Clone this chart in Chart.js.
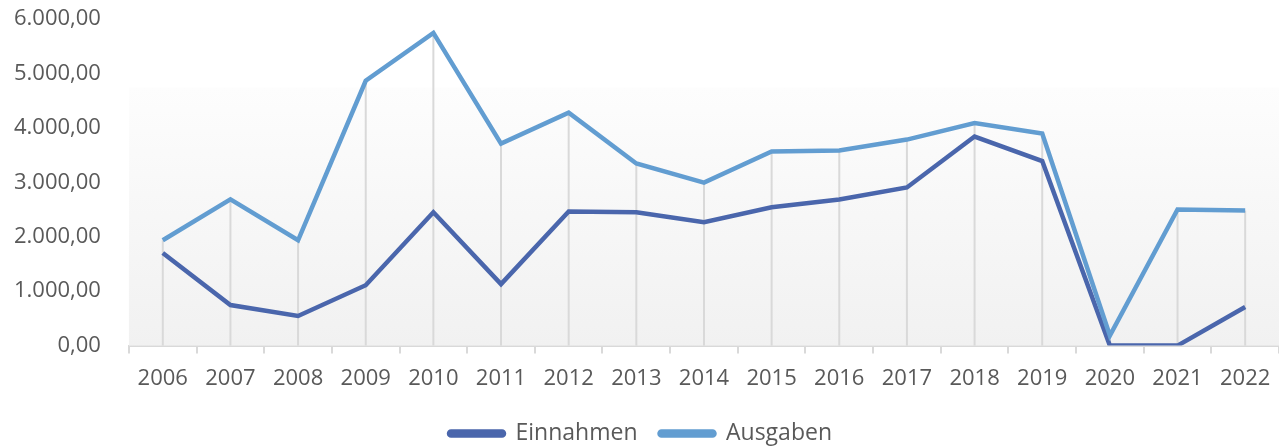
<!DOCTYPE html>
<html>
<head>
<meta charset="utf-8">
<script src="https://cdn.jsdelivr.net/npm/chart.js@4"></script>
<style>
  html, body { margin: 0; padding: 0; background: #fff; }
  #wrap { width: 1279px; height: 446px; position: relative; }
</style>
</head>
<body>
<div id="wrap"><canvas id="chart"></canvas></div>
<script>
const jahre = ['2006', '2007', '2008', '2009', '2010', '2011', '2012', '2013', '2014', '2015', '2016', '2017', '2018', '2019', '2020', '2021', '2022']
const einnahmen = [1700, 745, 545, 1110, 2450, 1130, 2465, 2450, 2265, 2540, 2685, 2905, 3840, 3390, 0, 0, 710]
const ausgaben = [1935, 2685, 1935, 4865, 5745, 3710, 4280, 3345, 2995, 3565, 3585, 3785, 4090, 3895, 185, 2500, 2480]
const yTicks = [0, 1000, 2000, 3000, 4000, 5000, 6000]

const fmt = new Intl.NumberFormat('de-DE', { minimumFractionDigits: 2, maximumFractionDigits: 2 })

// Hintergrund-Verlauf + senkrechte Linien (wie Excel Bezugslinien)
const hintergrund = {
    id: 'hintergrund',
    beforeDatasetsDraw(chart) {
        const { ctx, chartArea, scales } = chart
        const top = chartArea.top + (chartArea.bottom - chartArea.top) * 0.21
        const grad = ctx.createLinearGradient(0, top, 0, chartArea.bottom)
        grad.addColorStop(0, '#fdfdfd')
        grad.addColorStop(1, '#f1f1f1')
        ctx.save()
        ctx.fillStyle = grad
        ctx.fillRect(chartArea.left, top, chartArea.right - chartArea.left, chartArea.bottom - top)

        ctx.strokeStyle = '#d9d9d9'
        ctx.lineWidth = 2
        jahre.forEach((j, i) => {
            const x = scales.x.getPixelForValue(i)
            const hoch = Math.max(einnahmen[i], ausgaben[i])
            ctx.beginPath()
            ctx.moveTo(x, scales.y.getPixelForValue(0))
            ctx.lineTo(x, scales.y.getPixelForValue(hoch))
            ctx.stroke()
        })
        ctx.restore()
    }
}

const ctx = document.getElementById('chart').getContext('2d')
const chart = new Chart(ctx, {
    type: 'line',
    data: {
        labels: jahre,
        datasets: [{
            label: 'Einnahmen',
            data: einnahmen,
            borderColor: '#4a66ac',
            backgroundColor: '#4a66ac',
            borderWidth: 4.5,
            pointRadius: 0,
            tension: 0,
            order: 1
        }, {
            label: 'Ausgaben',
            data: ausgaben,
            borderColor: '#629dd1',
            backgroundColor: '#629dd1',
            borderWidth: 4.5,
            pointRadius: 0,
            tension: 0,
            order: 0
        }]
    },
    options: {
        responsive: true,
        maintainAspectRatio: false,
        animation: false,
        layout: { padding: { top: 19, right: -8, left: -6, bottom: -9 } },
        plugins: {
            legend: {
                position: 'bottom',
                labels: {
                    sort: (a, b) => a.datasetIndex - b.datasetIndex,
                    boxWidth: 55,
                    boxHeight: 4,
                    useBorderRadius: true,
                    borderRadius: 2,
                    padding: 22,
                    color: '#595959',
                    font: { family: 'Open Sans', size: 23 }
                }
            },
            tooltip: { enabled: false }
        },
        scales: {
            x: {
                offset: true,
                grid: {
                    offset: true,
                    drawOnChartArea: false,
                    drawTicks: true,
                    tickLength: 8,
                    color: '#d9d9d9',
                    lineWidth: 2
                },
                border: { color: '#d9d9d9', width: 2 },
                ticks: {
                    color: '#595959',
                    padding: 12,
                    maxRotation: 0,
                    font: { family: 'Open Sans', size: 22 }
                },
                afterFit: (axis) => {
                    axis.height -= 4
                    axis.paddingRight = 0
                }
            },
            y: {
                min: 0,
                max: 6000,
                afterBuildTicks: (axis) => { axis.ticks = yTicks.map(v => ({ value: v })) },
                afterFit: (axis) => { axis.paddingTop = 0 },
                grid: { display: false },
                border: { display: false },
                ticks: {
                    color: '#595959',
                    padding: 20,
                    font: { family: 'Open Sans', size: 22 },
                    callback: (v) => fmt.format(v)
                }
            }
        }
    },
    plugins: [hintergrund]
})
</script>
</body>
</html>
